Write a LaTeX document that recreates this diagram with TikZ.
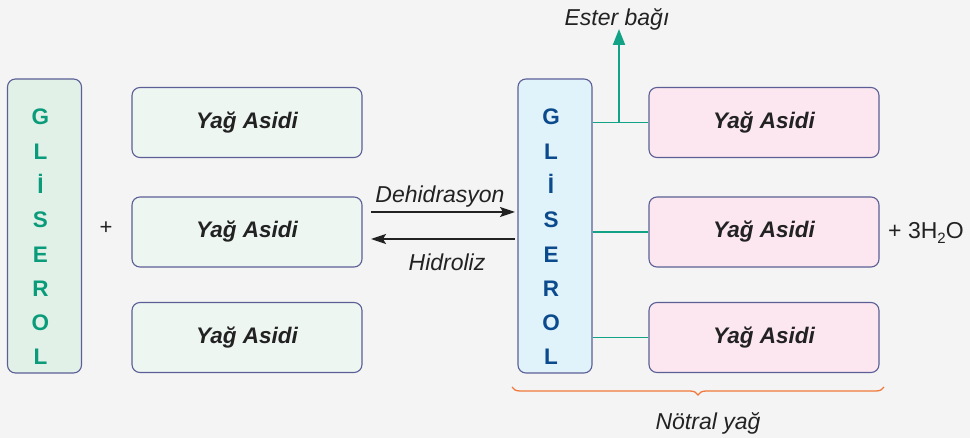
\documentclass[tikz,border=0pt]{standalone}
\usepackage{fontspec}
\setmainfont{Liberation Sans}
\usetikzlibrary{arrows.meta,decorations.pathreplacing}
\definecolor{bgc}{HTML}{F4F4F4}
\definecolor{edgec}{HTML}{5B5F95}
\definecolor{glyfillL}{HTML}{E1F1E8}
\definecolor{glytxtL}{HTML}{0A9C7A}
\definecolor{faL}{HTML}{EEF6F2}
\definecolor{glyfillR}{HTML}{E0F2FA}
\definecolor{glytxtR}{HTML}{0B4A8C}
\definecolor{faR}{HTML}{FCE7F0}
\definecolor{bondc}{HTML}{12A386}
\definecolor{bracec}{HTML}{F07A3A}
\definecolor{txt}{HTML}{222222}
\begin{document}
\begin{tikzpicture}[x=1pt,y=-1pt,
  box/.style={draw=edgec,line width=1.1pt,rounded corners=8pt,inner sep=0pt},
  fabox/.style={box,minimum width=230pt,minimum height=70pt,text=txt,
    font=\fontsize{22.5}{26}\selectfont\bfseries\itshape},
  glybox/.style={box,minimum width=74pt,minimum height=294pt},
  lbl/.style={text=txt,anchor=base,inner sep=0pt,font=\fontsize{23}{27}\selectfont\itshape},
  letters/.style={font=\fontsize{22.5}{24.3}\selectfont\bfseries,align=center,inner sep=0pt},
  rxn/.style={line width=1.5pt,txt,-{Stealth[length=15pt,width=10pt,inset=3pt]}},
  bond/.style={draw=bondc,line width=1.5pt}]
\fill[bgc] (0,0) rectangle (970,438);
\useasboundingbox (0,0) rectangle (970,438);
% left side
\node[glybox,fill=glyfillL] (gl) at (44.5,226) {};
\node[letters,text=glytxtL] (gltext) at (40.5,237) {G\\[10pt]L\\[10pt]İ\\[10pt]S\\[10pt]E\\[10pt]R\\[10pt]O\\[10pt]L};
\node[fabox,fill=faL] (la1) at (247,122.5) {Yağ Asidi};
\node[fabox,fill=faL] (la2) at (247,232) {Yağ Asidi};
\node[fabox,fill=faL] (la3) at (247,337.5) {Yağ Asidi};
\node[text=txt,font=\fontsize{22}{26}\selectfont] (plus) at (106,228) {+};
% right side
\node[glybox,fill=glyfillR] (gr) at (555,226) {};
\node[letters,text=glytxtR] (grtext) at (551,237) {G\\[10pt]L\\[10pt]İ\\[10pt]S\\[10pt]E\\[10pt]R\\[10pt]O\\[10pt]L};
\node[fabox,fill=faR] (ra1) at (764,122.5) {Yağ Asidi};
\node[fabox,fill=faR] (ra2) at (764,232) {Yağ Asidi};
\node[fabox,fill=faR] (ra3) at (764,337.5) {Yağ Asidi};
\node[text=txt,font=\fontsize{23}{26}\selectfont,anchor=west,inner sep=0pt] (water) at (888,233) {+ 3H\raisebox{-5pt}{\fontsize{15}{16}\selectfont 2}O};
% bonds
\draw[bond] (gr.east |- ra1.west) -- (ra1.west);
\draw[bond] (gr.east |- ra2.west) -- (ra2.west);
\draw[bond] (gr.east |- ra3.west) -- (ra3.west);
\coordinate (junc) at (619,122.5);
\node[lbl] (ester) at (617,26) {Ester bağı};
\coordinate (esttip) at (619,29);
\draw[bondc,line width=2pt,-{Triangle[length=16pt,width=12pt]}] (junc) -- (esttip);
% reaction arrows
\coordinate (d1) at (371,212);
\coordinate (d2) at (515,212);
\coordinate (h1) at (515,239);
\coordinate (h2) at (371,239);
\draw[rxn] (d1) -- (d2);
\draw[rxn] (h1) -- (h2);
\node[lbl] (deh) at (440,203) {Dehidrasyon};
\node[lbl] (hid) at (447,271) {Hidroliz};
% brace
\coordinate (br1) at (884,387);
\coordinate (br2) at (512,387);
\draw[bracec,line width=1.3pt,decorate,decoration={brace,amplitude=8pt,aspect=0.5}] (br1) -- (br2);
\node[lbl] (notral) at (708,429) {Nötral yağ};
\end{tikzpicture}
\end{document}
